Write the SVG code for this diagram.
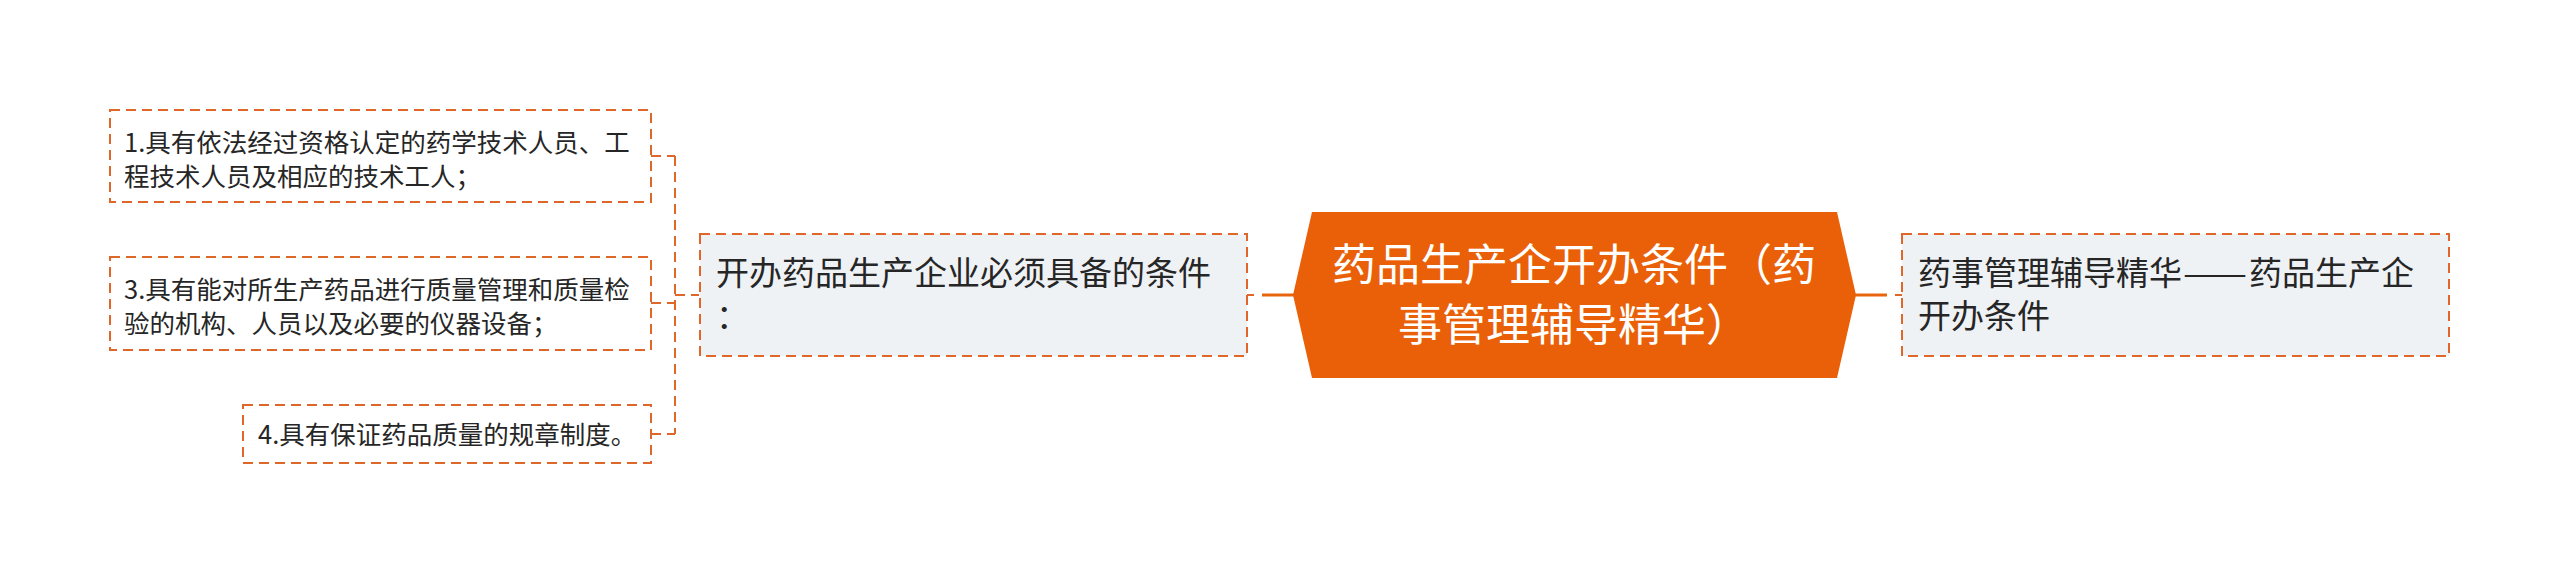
<svg xmlns="http://www.w3.org/2000/svg" width="2560" height="574" viewBox="0 0 2560 574">
  <style>
    .box { fill: #FFFFFF; stroke: #E0672A; stroke-width: 2; stroke-dasharray: 10 6; }
    .box2 { fill: #EFF2F5; stroke: #E0672A; stroke-width: 2; stroke-dasharray: 10 6; }
    .dash { fill: none; stroke: #E0672A; stroke-width: 2; stroke-dasharray: 10 6; }
    .solid { fill: none; stroke: #E8650E; stroke-width: 3; }
    .stub { fill: none; stroke: #E0672A; stroke-width: 2; }
    .t { font-family: "Noto Sans CJK SC", "Noto Sans", sans-serif; fill: #262626; }
    .s { font-size: 25.5px; }
    .m { font-size: 33px; }
    .c { font-size: 44px; fill: #FFFFFF; text-anchor: middle; }
  </style>
  <rect width="2560" height="574" fill="#FFFFFF"/>
  <g id="connectors">
    <path class="dash" d="M675,156 V434"/>
    <path class="dash" d="M651,156 H675"/>
    <path class="dash" d="M651,303 H675"/>
    <path class="dash" d="M651,434 H675"/>
    <path class="dash" d="M675,295 H699"/>
    <path class="solid" d="M1262,295 H1294"/>
    <path class="stub" d="M1247,295 H1254"/>
    <path class="solid" d="M1855,295 H1887"/>
    <path class="stub" d="M1895,295 H1902"/>
  </g>
  <g id="node-root">
    <polygon points="1312,212 1837,212 1856,295 1837,378 1312,378 1293,295" fill="#EA6008"/>
    <text class="t c" x="1574" y="281">药品生产企开办条件（药</text>
    <text class="t c" x="1574" y="341">事管理辅导精华）</text>
  </g>
  <g id="node-conditions">
    <rect class="box2" x="700" y="234" width="547" height="122"/>
    <text class="t m" x="716" y="285">开办药品生产企业必须具备的条件</text>
    <text class="t m" x="716" y="328">：</text>
  </g>
  <g id="node-essence">
    <rect class="box2" x="1902" y="234" width="547" height="122"/>
    <text class="t m" x="1918" y="285">药事管理辅导精华<tspan x="2183" textLength="64" lengthAdjust="spacingAndGlyphs">——</tspan><tspan x="2249">药品生产企</tspan></text>
    <text class="t m" x="1918" y="328">开办条件</text>
  </g>
  <g id="node-1">
    <rect class="box" x="110" y="110" width="541" height="92"/>
    <text class="t s" x="124" y="152">1.具有依法经过资格认定的药学技术人员、工</text>
    <text class="t s" x="124" y="186">程技术人员及相应的技术工人；</text>
  </g>
  <g id="node-3">
    <rect class="box" x="110" y="257" width="541" height="93"/>
    <text class="t s" x="124" y="299">3.具有能对所生产药品进行质量管理和质量检</text>
    <text class="t s" x="124" y="333">验的机构、人员以及必要的仪器设备；</text>
  </g>
  <g id="node-4">
    <rect class="box" x="243" y="405" width="408" height="58"/>
    <text class="t s" x="258" y="444">4.具有保证药品质量的规章制度。</text>
  </g>
</svg>
